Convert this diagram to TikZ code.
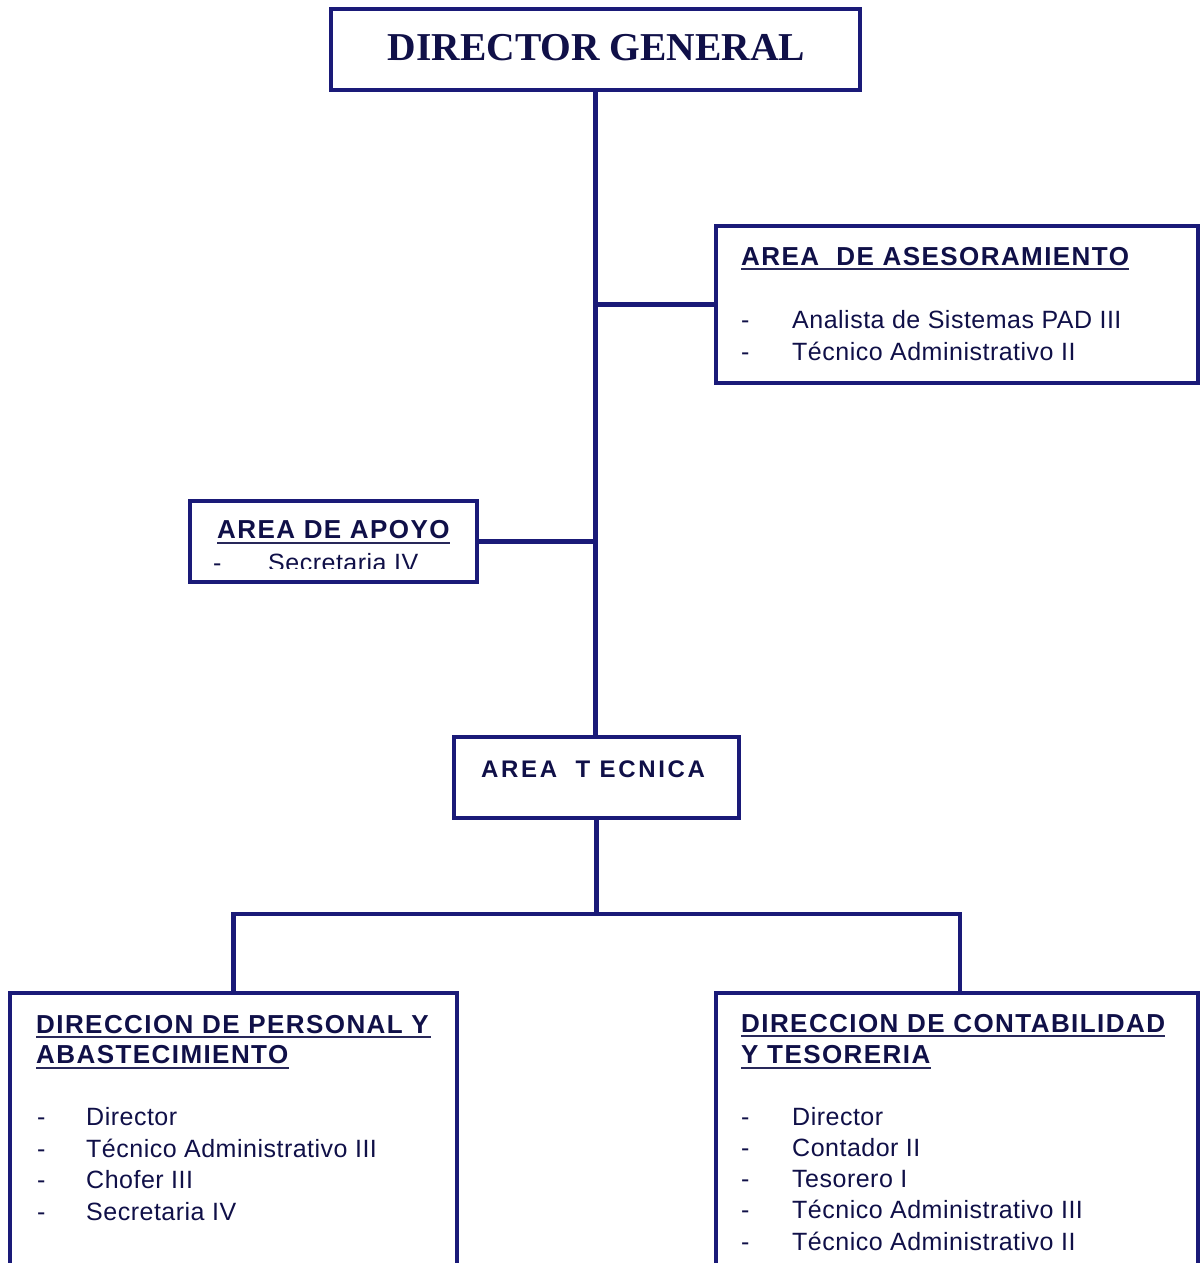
\documentclass[tikz,border=0pt]{standalone}
\usepackage{fontspec}
\setmainfont{Liberation Sans}
\newfontfamily\dgfont{Liberation Serif}
\newfontfamily\hdfont{Liberation Sans}[LetterSpace=5.5]
\newfontfamily\atfont{Liberation Sans}[LetterSpace=11]
\newfontfamily\bdfont{Liberation Sans}[LetterSpace=2]
\usetikzlibrary{calc}
\definecolor{boxc}{RGB}{26,26,120}
\definecolor{txtc}{RGB}{16,16,72}
\definecolor{ulc}{RGB}{40,40,90}
\tikzset{
  box/.style={draw=boxc, line width=4.5pt, rectangle, inner sep=0pt, fill=white},
  conn/.style={draw=boxc, line width=4.5pt},
  hd/.style={inner sep=0pt, anchor=base west, text=txtc, font=\hdfont\bfseries\fontsize{26}{30}\selectfont},
  it/.style={inner sep=0pt, anchor=base west, text=txtc, font=\bdfont\fontsize{25}{30}\selectfont},
  ul/.style={draw=ulc, line width=2pt},
}
\begin{document}
\begin{tikzpicture}[x=1pt,y=-1pt]
\useasboundingbox (0,0) rectangle (1200,1263);
\clip (0,0) rectangle (1200,1263);
% boxes
\node[box, minimum width=529pt, minimum height=81pt] (dg) at (595.5,49.5) {};
\node[box, minimum width=482pt, minimum height=157pt] (ase) at (957,304.5) {};
\node[box, minimum width=287pt, minimum height=81pt] (apo) at (333.5,541.5) {};
\node[box, minimum width=285pt, minimum height=81pt] (at) at (596.5,777.5) {};
\node[box, minimum width=447pt, minimum height=297pt] (lb) at (233.5,1141.5) {};
\node[box, minimum width=482pt, minimum height=297pt] (rb) at (957,1141.5) {};
% connectors
\coordinate (j) at (596.5,914);
\coordinate (rdrop) at ($(rb.north)+(3,0)$);
\draw[conn] (dg.south) -- (dg.south |- at.north);
\draw[conn] (ase.west) -- (ase.west -| dg.south);
\draw[conn] (apo.east) -- (apo.east -| dg.south);
\draw[conn] (at.south) -- (at.south |- j);
\draw[conn] (lb.north) |- (j) -| (rdrop);
% Director general
\node[inner sep=0pt, anchor=base, text=txtc, font=\dgfont\bfseries\fontsize{39.5}{44}\selectfont] (dgt) at (596.5,60) {DIRECTOR GENERAL};
% Asesoramiento
\node[hd] (aseh) at (741,265) {AREA\ \ DE ASESORAMIENTO};
\draw[ul] ($(aseh.base west)+(0,4)$) -- ($(aseh.base east)+(0,4)$);
\node[it] (ased1) at (741,328) {-};
\node[it] (ase1) at (792,328) {Analista de Sistemas PAD III};
\node[it] (ased2) at (741,360) {-};
\node[it] (ase2) at (792,360) {Técnico Administrativo II};
% Apoyo
\node[hd] (apoh) at (217,538) {AREA DE APOYO};
\draw[ul] ($(apoh.base west)+(0,5)$) -- ($(apoh.base east)+(0,5)$);
\begin{scope}
\clip (190,501) rectangle (477,568);
\node[it] (apod1) at (213,571) {-};
\node[it] (apo1) at (268,571) {Secretaria IV};
\end{scope}
% Area tecnica
\node[hd, font=\atfont\bfseries\fontsize{24}{28}\selectfont] (att) at (481,777) {AREA\ \ T ECNICA};
% Left bottom
\node[hd] (lbh1) at (36,1033) {DIRECCION DE PERSONAL Y};
\draw[ul] ($(lbh1.base west)+(0,4)$) -- ($(lbh1.base east)+(2,4)$);
\node[hd] (lbh2) at (36,1063) {ABASTECIMIENTO};
\draw[ul] ($(lbh2.base west)+(0,5)$) -- ($(lbh2.base east)+(0,5)$);
\foreach \i/\yy/\t in {1/1125/Director, 2/1157/Técnico Administrativo III, 3/1188/Chofer III, 4/1220/Secretaria IV}{
  \node[it] (lbd\i) at (37,\yy) {-};
  \node[it] (lbi\i) at (86,\yy) {\t};
}
% Right bottom
\node[hd] (rbh1) at (741,1032) {DIRECCION DE CONTABILIDAD};
\draw[ul] ($(rbh1.base west)+(0,4)$) -- ($(rbh1.base east)+(0,4)$);
\node[hd] (rbh2) at (741,1063) {Y TESORERIA};
\draw[ul] ($(rbh2.base west)+(0,5)$) -- ($(rbh2.base east)+(0,5)$);
\foreach \i/\yy/\t in {1/1125/Director, 2/1156/Contador II, 3/1187/Tesorero I, 4/1218/Técnico Administrativo III, 5/1250/Técnico Administrativo II}{
  \node[it] (rbd\i) at (741,\yy) {-};
  \node[it] (rbi\i) at (792,\yy) {\t};
}
\end{tikzpicture}
\end{document}
